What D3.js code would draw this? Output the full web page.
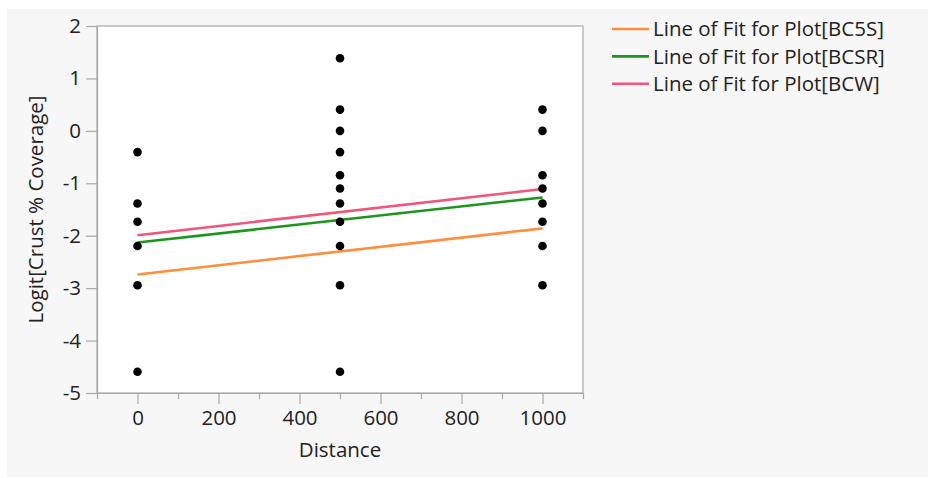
<!DOCTYPE html>
<html>
<head>
<meta charset="utf-8">
<script src="https://cdn.jsdelivr.net/npm/d3@7"></script>
<style>
  body { margin: 0; background: #fff; }
  svg text { font-family: "Segoe UI", "Open Sans", sans-serif; fill: #222; }
</style>
</head>
<body>
<svg id="chart" width="928" height="478"></svg>
<script>
// points: distance and logit of % crust coverage
var distances = [0, 0, 0, 0, 0, 0,
  500, 500, 500, 500, 500, 500, 500, 500, 500, 500, 500,
  1000, 1000, 1000, 1000, 1000, 1000, 1000, 1000];
var logits = [-0.405, -1.386, -1.735, -2.197, -2.944, -4.595,
  1.386, 0.405, 0, -0.405, -0.847, -1.099, -1.386, -1.735, -2.197, -2.944, -4.595,
  0.405, 0, -0.847, -1.099, -1.386, -1.735, -2.197, -2.944];

// lines of fit, value at distance 0 and 1000
var fitNames = ["BC5S", "BCSR", "BCW"];
var fitAt0 = [-2.74, -2.13, -1.99];
var fitAt1000 = [-1.86, -1.27, -1.11];
var fitColors = ["#ff8e3c", "#1a961e", "#f2557a"];

var xTicks = [0, 200, 400, 600, 800, 1000];
var xMinor = [-100, 100, 300, 500, 700, 900, 1100];
var yTicks = [2, 1, 0, -1, -2, -3, -4, -5];

(function() {
  var svg = d3.select("#chart");
  var W = 928, H = 478;
  var pl = 97, pr = 583, pt = 26, pb = 393; // plot frame
  var fs = 20.5;
  var font = '"Segoe UI", "Open Sans", sans-serif';
  var plain = function(d) { return String(d); }; // hyphen minus like the original

  svg.append("rect").attr("x", 7).attr("y", 9).attr("width", W - 7).attr("height", H - 10)
    .attr("fill", "#f7f7f7");

  var x = d3.scaleLinear().domain([-100, 1100]).range([pl, pr]);
  var y = d3.scaleLinear().domain([-5, 2]).range([pb, pt]);

  svg.append("rect").attr("x", pl).attr("y", pt)
    .attr("width", pr - pl).attr("height", pb - pt)
    .attr("fill", "#fff").attr("stroke", "#a8a8a8").attr("stroke-width", 1.2);

  // x axis
  var gx = svg.append("g").attr("transform", "translate(0," + pb + ")");
  gx.call(d3.axisBottom(x).tickValues(xTicks).tickSize(11).tickSizeOuter(0).tickPadding(6)
    .tickFormat(plain));
  gx.append("g").call(d3.axisBottom(x).tickValues(xMinor).tickSize(6).tickSizeOuter(0).tickFormat(""));
  gx.selectAll(".domain").attr("stroke", "#a8a8a8").attr("stroke-width", 1.2);
  gx.selectAll(".tick line").attr("stroke", "#a8a8a8").attr("stroke-width", 1.2);
  gx.selectAll("text").attr("font-size", fs).attr("fill", "#222").style("font-family", font);

  // y axis
  var gy = svg.append("g").attr("transform", "translate(" + pl + ",0)");
  gy.call(d3.axisLeft(y).tickValues(yTicks).tickSize(11).tickSizeOuter(0).tickPadding(5)
    .tickFormat(plain));
  gy.selectAll(".domain").attr("stroke", "#a8a8a8").attr("stroke-width", 1.2);
  gy.selectAll(".tick line").attr("stroke", "#a8a8a8").attr("stroke-width", 1.2);
  gy.selectAll("text").attr("font-size", fs).attr("fill", "#222").style("font-family", font);

  // axis titles
  svg.append("text").attr("x", (pl + pr) / 2).attr("y", 457)
    .attr("text-anchor", "middle").attr("font-size", fs).text("Distance");
  svg.append("text").attr("transform", "translate(43," + (pt + pb) / 2 + ") rotate(-90)")
    .attr("text-anchor", "middle").attr("font-size", fs).text("Logit[Crust % Coverage]");

  // fit lines
  fitNames.forEach(function(n, i) {
    svg.append("line")
      .attr("x1", x(0)).attr("y1", y(fitAt0[i]))
      .attr("x2", x(1000)).attr("y2", y(fitAt1000[i]))
      .attr("stroke", fitColors[i]).attr("stroke-width", 2.6);
  });

  // points
  svg.selectAll("circle.pt")
    .data(distances)
    .enter().append("circle")
    .attr("class", "pt")
    .attr("cx", function(d) { return x(d); })
    .attr("cy", function(d, i) { return y(logits[i]); })
    .attr("r", 4.3)
    .attr("fill", "#000");

  // legend
  var lg = svg.append("g");
  fitNames.forEach(function(n, i) {
    var ly = 29 + i * 27.4;
    lg.append("line").attr("x1", 612).attr("x2", 649).attr("y1", ly).attr("y2", ly)
      .attr("stroke", fitColors[i]).attr("stroke-width", 2.6);
    lg.append("text").attr("x", 653).attr("y", ly).attr("dy", "0.35em")
      .attr("font-size", fs).text("Line of Fit for Plot[" + n + "]");
  });
})();
</script>
</body>
</html>
